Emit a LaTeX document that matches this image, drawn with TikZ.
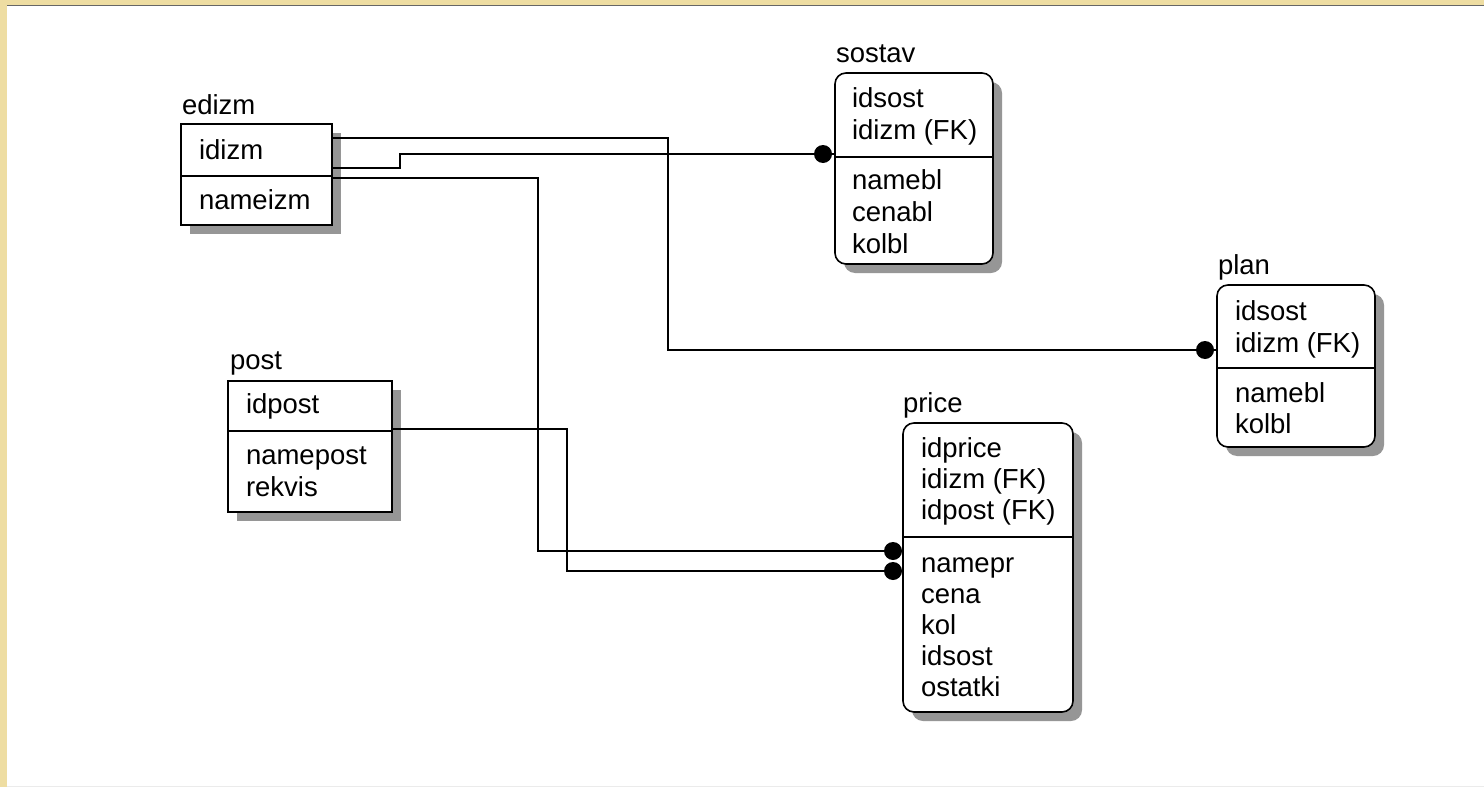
\documentclass[tikz,border=0pt]{standalone}
\usepackage{fontspec}
\setmainfont{Liberation Sans}
\usetikzlibrary{calc,shadows}
\definecolor{slideyellow}{RGB}{238,221,162}
\definecolor{shadowgray}{RGB}{150,150,150}
\tikzset{
  tbl/.style={draw=black, line width=1.6pt, fill=white, inner sep=0pt, outer sep=0pt,
    anchor=north west,
    drop shadow={shadow xshift=9pt, shadow yshift=-9pt, fill=shadowgray, opacity=1}},
  rtbl/.style={tbl, rounded corners=11pt},
  fld/.style={anchor=base west, inner sep=0pt, outer sep=0pt, font=\fontsize{27.5}{32}\selectfont},
  conn/.style={line width=1.6pt},
  fkdot/.style={circle, fill=black, draw=none, minimum size=18pt, inner sep=0pt},
  divider/.style={line width=1.6pt},
}
\begin{document}
\begin{tikzpicture}[x=1pt,y=-1pt]
\useasboundingbox (0,0) rectangle (1484,787);
% slide background
\fill[slideyellow] (0,0) rectangle (1484,787);
\fill[white] (7,6) rectangle (1484,787);
\draw[black!60, line width=1.5pt] (7,5.5) -- (1484,5.5);
\draw[black!8, line width=1pt] (7,786) -- (1484,786);

% tables
\node[tbl, minimum width=151pt, minimum height=101pt] (edizm) at (181,124) {};
\node[rtbl, minimum width=158pt, minimum height=191pt] (sostav) at (835,73) {};
\node[rtbl, minimum width=158pt, minimum height=162pt] (plan) at (1217,285) {};
\node[tbl, minimum width=164pt, minimum height=131pt] (post) at (228,381) {};
\node[rtbl, minimum width=170pt, minimum height=289pt] (price) at (903,423) {};

% dividers
\draw[divider] ($(edizm.north west)+(0,52)$) -- ($(edizm.north east)+(0,52)$);
\draw[divider] ($(sostav.north west)+(0,84)$) -- ($(sostav.north east)+(0,84)$);
\draw[divider] ($(plan.north west)+(0,83)$) -- ($(plan.north east)+(0,83)$);
\draw[divider] ($(post.north west)+(0,50)$) -- ($(post.north east)+(0,50)$);
\draw[divider] ($(price.north west)+(0,114)$) -- ($(price.north east)+(0,114)$);

% table titles
\node[fld] (t-edizm) at (182,114) {edizm};
\node[fld] (t-sostav) at (836,62) {sostav};
\node[fld] (t-plan) at (1218,274) {plan};
\node[fld] (t-post) at (230,369) {post};
\node[fld] (t-price) at (903,412) {price};

% fields: edizm
\node[fld] (e1) at (199,159) {idizm};
\node[fld] (e2) at (199,209) {nameizm};
% sostav
\node[fld] (s1) at (852,107) {idsost};
\node[fld] (s2) at (852,139) {idizm (FK)};
\node[fld] (s3) at (852,189) {namebl};
\node[fld] (s4) at (852,221) {cenabl};
\node[fld] (s5) at (852,253) {kolbl};
% plan
\node[fld] (p1) at (1235,320) {idsost};
\node[fld] (p2) at (1235,352) {idizm (FK)};
\node[fld] (p3) at (1235,402) {namebl};
\node[fld] (p4) at (1235,433) {kolbl};
% post
\node[fld] (q1) at (246,413) {idpost};
\node[fld] (q2) at (246,464) {namepost};
\node[fld] (q3) at (246,496) {rekvis};
% price
\node[fld] (r1) at (921,457) {idprice};
\node[fld] (r2) at (921,488) {idizm (FK)};
\node[fld] (r3) at (921,519) {idpost (FK)};
\node[fld] (r4) at (921,572) {namepr};
\node[fld] (r5) at (921,603) {cena};
\node[fld] (r6) at (921,634) {kol};
\node[fld] (r7) at (921,665) {idsost};
\node[fld] (r8) at (921,696) {ostatki};

% connection points
\coordinate (a1) at ($(edizm.north east)+(0,14)$);
\coordinate (a2) at ($(edizm.north east)+(0,44)$);
\coordinate (a3) at ($(edizm.north east)+(0,54)$);
\coordinate (a4) at ($(post.north east)+(0,48)$);
\coordinate (b1) at ($(plan.north west)+(0,65)$);
\coordinate (b2) at ($(sostav.north west)+(0,81)$);
\coordinate (b3) at ($(price.north west)+(0,128)$);
\coordinate (b4) at ($(price.north west)+(0,148)$);

% connectors
\draw[conn] (a1) -| (668,350) -- (b1);
\draw[conn] (a2) -| (400,154) -- (b2);
\draw[conn] (a3) -| (538,551) -- (b3);
\draw[conn] (a4) -| (567,571) -- (b4);

% foreign key dots
\node[fkdot] (d1) at ($(b1)+(-12,0)$) {};
\node[fkdot] (d2) at ($(b2)+(-12,0)$) {};
\node[fkdot] (d3) at ($(b3)+(-10,0)$) {};
\node[fkdot] (d4) at ($(b4)+(-10,0)$) {};
\end{tikzpicture}
\end{document}
